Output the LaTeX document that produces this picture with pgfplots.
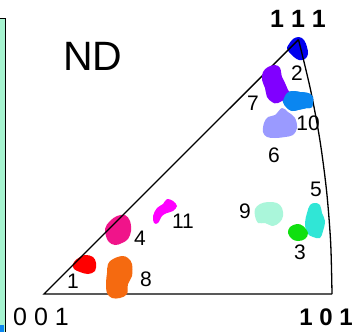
\documentclass[border=0pt]{standalone}
\usepackage{pgfplots}
\pgfplotsset{compat=1.18}
\usepackage{fontspec}
\setmainfont{Liberation Sans}

% grain colours
\definecolor{gA}{HTML}{0000EE}   % near 111
\definecolor{g1}{HTML}{FF0000}
\definecolor{g3}{HTML}{10E010}
\definecolor{g4}{HTML}{F0148A}
\definecolor{g5}{HTML}{30E6D6}
\definecolor{g6}{HTML}{9A9AFF}
\definecolor{g7}{HTML}{8000FF}
\definecolor{g8}{HTML}{F56A10}
\definecolor{g9}{HTML}{AAF6DA}
\definecolor{g10}{HTML}{0A86F0}
\definecolor{g11}{HTML}{FF00FF}
\definecolor{strip}{HTML}{A6F4D0}

\begin{document}
\begin{tikzpicture}
\path[use as bounding box, clip] (0,0) rectangle (355pt,332pt);
\begin{axis}[
  width=355pt, height=332pt, scale only axis,
  xmin=0, xmax=355, ymin=0, ymax=332, y dir=reverse,
  axis lines=none, clip=false,
  blob/.style={draw=none, fill=#1, smooth cycle, tension=0.6, forget plot},
]
% neighbouring panel edge
\fill[strip] (axis cs:0,18) rectangle (axis cs:5,332);
\fill[g10] (axis cs:0,325) rectangle (axis cs:4,332);
\draw[black, line width=1.6pt] (axis cs:0,18.5) -- (axis cs:5.5,18.5) -- (axis cs:5.5,332);

% grains lying under the triangle edges
\addplot[blob=gA] coordinates {(289,44)(293,39)(299,37)(304,40)(307,47)(308,54)(305,59)(299,60)(294,57)(289,52)(287,48)};
\addplot[blob=g4] coordinates {(105,229)(110,221)(117,216)(125,215)(130,221)(131,231)(128,239)(122,243)(115,245)(108,241)};
\addplot[blob=g1] coordinates {(73,264)(77,259)(85,255)(93,257)(96,263)(95,271)(88,274)(80,272)(74,269)};
\addplot[blob=g10] coordinates {(282,97)(287,93)(293,91)(300,92)(308,93)(313,97)(312,107)(307,108)(298,110)(292,111)(287,108)(283,102)};

% standard stereographic triangle 001 - 101 - 111
\addplot[black, line width=1.3pt, forget plot] coordinates {(298.5,39.6)(44,294)(332,294)};
\addplot[black, line width=1.3pt, smooth, forget plot] coordinates {(332,294)(330.65,242.55)(326.6,191.25)(319.9,140.2)(310.5,89.6)(298.5,39.6)};

% remaining grains
\addplot[blob=g7] coordinates {(275,65)(280,68)(282,77)(285,83)(288,90)(290,95)(278,103)(272,102)(267,97)(265,88)(262,80)(263,72)(268,67)};
\addplot[blob=g10] coordinates {(287,93)(293,91)(300,92)(308,93)(313,97)(312,107)(307,108)(298,110)(292,111)(287,108)(283,102)};
\addplot[blob=g6] coordinates {(264,123)(268,117)(275,115)(282,108)(288,112)(295,118)(297,128)(293,135)(285,137)(275,138)(267,137)(263,132)};
\addplot[blob=g9] coordinates {(255,209)(260,204)(268,202)(277,203)(282,208)(283,216)(280,222)(273,226)(265,223)(258,223)(255,216)};
\addplot[blob=g5] coordinates {(307,213)(310,205)(315,203)(320,205)(322,213)(325,221)(323,231)(320,238)(313,237)(307,233)(305,223)};
\addplot[blob=g3] coordinates {(288,233)(290,227)(297,224)(303,226)(308,233)(305,239)(298,241)(292,239)};
\addplot[blob=g11] coordinates {(153,216)(157,208)(163,204)(167,199)(173,201)(177,206)(173,211)(167,213)(162,216)(158,223)(154,223)};
\addplot[blob=g8] coordinates {(107,273)(108,264)(113,259)(122,256)(128,258)(132,264)(132,276)(128,284)(127,294)(120,298)(112,298)(107,293)(106,283)};

% labels
\node[font=\fontsize{41}{41}\selectfont] at (axis cs:93,56) {ND};
\node[font=\fontsize{25}{25}\selectfont\bfseries] at (axis cs:298,19) {1 1 1};
\node[font=\fontsize{25}{25}\selectfont] at (axis cs:41,317) {0 0 1};
\node[font=\fontsize{24}{24}\selectfont\bfseries, anchor=east, inner sep=1pt] at (axis cs:354,317) {1 0 1};

\begin{scope}[every node/.style={font=\fontsize{21}{21}\selectfont}]
\node at (axis cs:73,281) {1};
\node at (axis cs:297,73) {2};
\node at (axis cs:300,252) {3};
\node at (axis cs:140,238) {4};
\node at (axis cs:316,189) {5};
\node at (axis cs:274,155) {6};
\node at (axis cs:253,103) {7};
\node at (axis cs:146,279) {8};
\node at (axis cs:245,211) {9};
\node at (axis cs:308,123) {10};
\node at (axis cs:183,221) {11};
\end{scope}
\end{axis}
\end{tikzpicture}
\end{document}
